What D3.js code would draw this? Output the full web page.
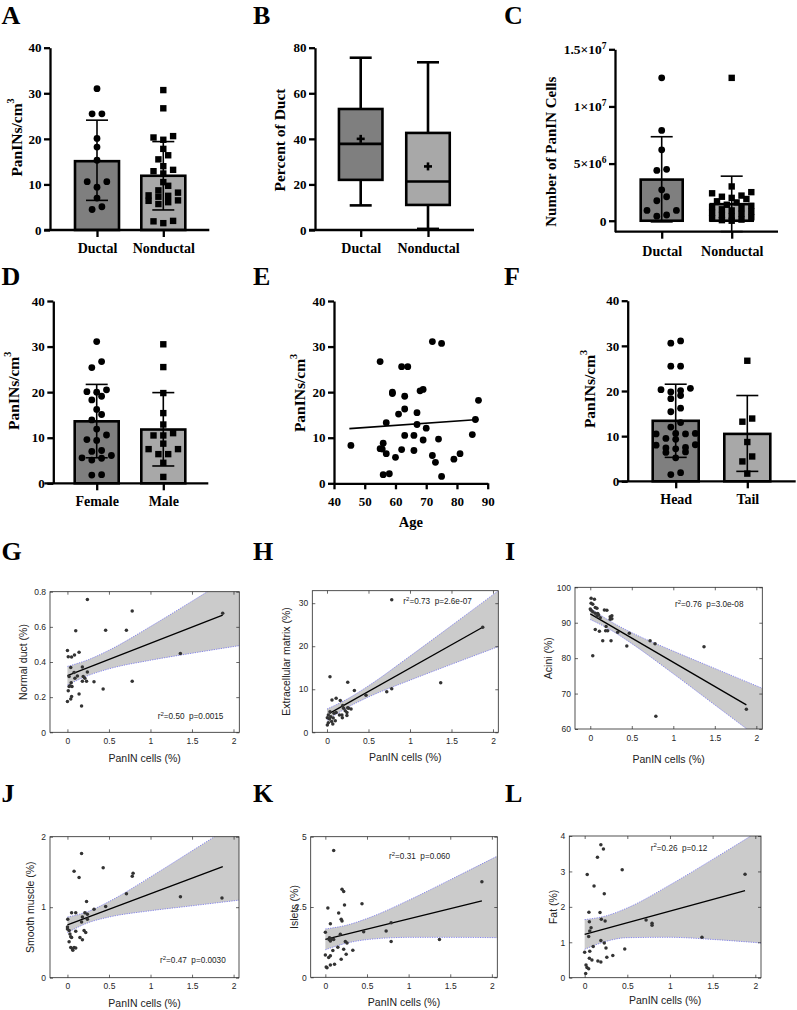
<!DOCTYPE html>
<html><head><meta charset="utf-8">
<script src="https://cdn.jsdelivr.net/npm/d3@7"></script>
<style>body{margin:0;background:#fff}</style>
</head><body>
<svg id="fig" width="797" height="1010" style="background:#fff"></svg>
<script>
// ================= DATA =================
// Panel A
const catsA = ["Ductal", "Nonductal"];
const ductalA = [31, 25.5, 25.5, 20.1, 18.2, 15.3, 10.6, 10.6, 9.4, 7.0, 5.1, 4.5];
const nonductalA = [30.7, 26.7, 20.6, 20.3, 19.8, 17.8, 16.4, 15.5, 14.0, 13.2, 12.9, 12.4, 10.5, 9.7, 8.7, 8.2, 7.6, 7.5, 7.3, 6.5, 6.4, 6.1, 5.7, 2.0, 1.9, 1.5];
const meanA = [15.1, 11.9];
const sdUpA = [24.1, 19.4];
const sdLoA = [6.5, 4.4];
const ticksA = [0, 10, 20, 30, 40];
// Panel B (box plot)
const catsB = ["Ductal", "Nonductal"];
const minB = [10.8, 0.5];
const q1B = [22.0, 11.0];
const medB = [37.8, 21.3];
const q3B = [53.1, 42.6];
const maxB = [75.6, 73.6];
const meanB = [40.0, 27.9];
const ticksB = [0, 20, 40, 60, 80];
// Panel C
const catsC = ["Ductal", "Nonductal"];
const ductalC = [12.5e6, 7.9e6, 6.2e6, 4.4e6, 4.5e6, 2.7e6, 2.1e6, 1.75e6, 0.9e6, 0.9e6, 0.4e6, 0.5e6];
const nonductalC = [12.5e6, 3.0e6, 2.5e6, 2.4e6, 2.2e6, 2.1e6, 2.0e6, 1.9e6, 1.7e6, 1.6e6, 1.4e6, 1.3e6, 1.2e6, 1.1e6, 1.0e6, 0.9e6, 0.8e6, 0.7e6, 0.6e6, 0.5e6, 0.4e6, 0.3e6, 0.2e6, 0.1e6, 0.05e6, 0];
const meanC = [3.6e6, 1.45e6];
const sdUpC = [7.35e6, 3.9e6];
const sdLoC = [-0.1e6, -0.95e6];
const ticksC = [0, 5e6, 1e7, 1.5e7];
// Panel D
const catsD = ["Female", "Male"];
const femaleD = [31.1, 26.7, 25.4, 20.5, 20.1, 20.0, 19.1, 18.3, 16.2, 15.1, 13.9, 11.9, 10.6, 9.6, 9.4, 7.2, 7.0, 6.1, 5.6, 5.1, 5.5, 1.8, 1.9];
const maleD = [30.5, 25.5, 19.8, 15.4, 12.9, 11.0, 10.5, 10.5, 8.7, 7.5, 7.5, 6.4, 6.4, 4.5, 1.4];
const meanD = [13.6, 11.8];
const sdUpD = [21.7, 19.9];
const sdLoD = [5.6, 3.8];
// Panel E
const ageE = [45.5, 55, 55, 55.7, 56, 56, 57, 57, 58, 59, 59, 60, 61, 62, 62, 63, 63, 63, 64, 66, 66, 67, 67, 68, 69, 69, 70, 72, 72, 73, 74, 75, 75, 79, 81, 85, 86, 87];
const valE = [8.3, 26.7, 7.6, 7.5, 8.8, 1.9, 13.3, 6.5, 2.1, 20.0, 19.7, 5.7, 15.2, 25.6, 7.4, 19.1, 16.3, 10.5, 25.6, 10.5, 7.2, 15.5, 12.9, 20.3, 20.6, 9.5, 12.1, 31.1, 6.1, 4.6, 9.7, 30.7, 1.5, 5.3, 6.5, 10.7, 14.0, 18.2];
const fitAgeE = [45, 87];
const fitValE = [12.0, 14.0];
const ticksAgeE = [40, 50, 60, 70, 80, 90];
// Panel F
const catsF = ["Head", "Tail"];
const headF = [31.1, 30.6, 25.5, 25.5, 20.6, 20.3, 20.1, 19.8, 19.0, 18.3, 16.2, 15.4, 13.0, 12.0, 10.6, 10.6, 10.5, 10.5, 9.5, 9.3, 8.1, 8.0, 7.5, 7.4, 7.2, 6.5, 6.4, 5.2, 1.9, 1.5];
const tailF = [26.7, 13.9, 13.2, 8.7, 5.5, 4.4, 1.7];
const meanF = [13.4, 10.5];
const sdUpF = [21.5, 19.0];
const sdLoF = [5.3, 2.2];

// Panels G-L (x = PanIN cells %)
const ticksPanIN = [0, 0.5, 1, 1.5, 2];
const gx = [0.24,0.78,1.87,0.10,0.46,0.71,1.36,0,0.14,0.085,0.01,0.05,0.18,0.04,0.24,0.08,0.02,0.19,0.09,0.21,0.18,0.23,0.32,0.78,0.045,0.03,0.02,0.055,0.01,0.43,0.14,0.05,0.04,0,0.17,0.12];
const gy = [0.756,0.69,0.678,0.578,0.58,0.58,0.449,0.466,0.455,0.44,0.43,0.428,0.372,0.368,0.343,0.34,0.317,0.317,0.307,0.307,0.29,0.29,0.288,0.29,0.282,0.265,0.26,0.26,0.237,0.246,0.218,0.203,0.19,0.175,0.15,0.32];
const gFitX = [0, 1.87], gFitY = [0.322, 0.667];
const gBandX = [0, 0.25, 0.5, 1, 1.5, 2.07];
const gBandLo = [0.269, 0.323, 0.361, 0.410, 0.450, 0.493];
const gBandHi = [0.375, 0.413, 0.467, 0.602, 0.746, 0.913];

const hx = [0.78,1.876,1.37,0.25,0.036,0.33,0.72,0.78,0.47,0.06,0.11,0.16,0.19,0.2,0.25,0.22,0.26,0.24,0.18,0.24,0.185,0.15,0.085,0.11,0.036,0.016,0.004,0.03,0.016,0.056,0.1,0.004,0.07,0.045,0.075,0.29];
const hy = [30.8,24.4,11.5,11.6,12.9,9.7,9.4,10.1,8.6,7.5,7.9,7.4,6.2,5.6,5.7,5.0,5.6,4.6,4.0,3.9,3.4,4.0,4.4,4.6,4.8,4.0,3.4,3.1,2.2,2.5,2.7,1.7,1.9,3.6,3.3,5.4];
const hFitX = [0.03, 1.876], hFitY = [4.4, 24.4];
const hBandX = [0, 0.25, 0.5, 1, 1.5, 2.064];
const hBandLo = [2.8, 5.8, 8.2, 12.1, 15.8, 19.9];
const hBandHi = [5.4, 7.8, 10.8, 17.7, 24.8, 32.9];

const ix = [0.01,0.05,0.01,0.03,0,0.01,0.06,0.08,0.03,0.06,0.09,0.1,0.08,0.12,0.17,0.2,0.24,0.26,0.24,0.26,0.06,0.11,0.19,0.185,0.21,0.15,0.25,0.33,0.47,0.44,0.72,0.78,0.03,1.37,0.79,1.88];
const iy = [96.9,96.6,95.5,95.2,93.9,93.5,94.3,94.1,93.1,92.7,92.6,92.2,91.9,91.4,93.6,93.5,91.7,92.0,91.0,91.1,88.1,87.6,88.9,87.7,87.7,84.9,84.9,87.3,87.0,83.4,84.9,84.1,80.7,83.2,63.6,65.6];
const iFitX = [0, 1.88], iFitY = [92.5, 66.8];
const iBandX = [0, 0.25, 0.5, 1, 1.5, 2.072];
const iBandLo = [90.9, 87.9, 84.1, 75.6, 66.8, 56.7];
const iBandHi = [94.1, 90.3, 87.2, 82.0, 77.1, 71.5];

const jx = [0.17,0.08,0.43,0.14,0.79,0.78,0.71,1.36,1.86,0.23,0.32,0.46,0.05,0.1,0.21,0.24,0.004,0.18,0.24,0.17,0,0,0.02,0.1,0.2,0.22,0.03,0.04,0.05,0.15,0.18,0.02,0.04,0.06,0.08,0.1,0.065];
const jy = [1.76,1.51,1.56,1.42,1.48,1.44,1.19,1.15,1.13,1.08,0.97,1.01,0.92,0.92,0.92,0.90,0.83,0.86,0.83,0.79,0.72,0.69,0.67,0.66,0.67,0.64,0.62,0.58,0.57,0.57,0.54,0.51,0.43,0.41,0.43,0.42,0.39];
const jFitX = [0, 1.87], jFitY = [0.75, 1.575];
const jBandX = [0, 0.25, 0.5, 1, 1.5, 2.065];
const jBandLo = [0.64, 0.78, 0.86, 0.95, 1.02, 1.10];
const jBandHi = [0.86, 0.94, 1.08, 1.43, 1.80, 2.22];

const kx = [0.1,1.88,0.2,0.22,0.03,0.44,0.23,0.16,0.19,0.2,0.06,0.79,0,0.46,0.73,0.18,0.05,0.08,0.045,0.1,0.06,0.24,0.26,0.79,1.37,0.15,0.22,0.09,0.33,0.25,0,0.04,0.06,0.19,0.11,0.06,0.01,0.02];
const ky = [4.51,3.40,3.13,3.05,2.46,2.62,2.57,2.29,2.06,2.0,1.90,1.94,1.60,1.62,1.65,1.53,1.41,1.36,1.34,1.34,1.29,1.27,1.22,1.27,1.34,1.07,1.0,0.95,0.96,0.82,0.79,0.70,0.77,0.64,0.46,0.44,0.37,0.34];
const kFitX = [0, 1.88], kFitY = [1.35, 2.72];
const kBandX = [0, 0.25, 0.5, 1, 1.5, 2.065];
const kBandLo = [0.98, 1.21, 1.34, 1.42, 1.42, 1.41];
const kBandHi = [1.72, 1.85, 2.09, 2.74, 3.47, 4.31];

const lx = [0.19,0.22,0.15,0.44,0.03,1.88,0.11,0.23,0.05,0.18,0.195,0.24,0.055,0.72,0.79,0.79,0.075,0.06,0.047,0.19,0.23,1.375,0.1,0.25,0.47,0,0.06,0.055,0.085,0.155,0.19,0.26,0.33,0.016,0.027,0.047,0.012];
const ly = [3.75,3.63,3.40,3.05,2.91,2.92,2.59,2.37,1.85,1.84,1.65,1.60,1.58,1.63,1.54,1.48,1.41,1.32,1.16,1.05,0.98,1.14,0.88,0.84,0.81,0.72,0.75,0.55,0.50,0.47,0.44,0.58,0.63,0.36,0.29,0.25,0.12];
const lFitX = [0, 1.88], lFitY = [1.22, 2.46];
const lBandX = [0, 0.25, 0.5, 1, 1.5, 2.067];
const lBandLo = [0.80, 1.025, 1.13, 1.14, 1.08, 0.98];
const lBandHi = [1.64, 1.745, 1.97, 2.62, 3.34, 4.18];

const statR2 = ["0.50", "0.73", "0.76", "0.47", "0.31", "0.26"];
const statP = ["0.0015", "2.6e-07", "3.0e-08", "0.0030", "0.060", "0.12"];

// ================= DRAWING =================
const SERIF = "'Liberation Serif','Times New Roman',serif";
const SANS = "'Liberation Sans',Arial,Helvetica,sans-serif";
const DARK = "#7f7f7f", LIGHT = "#a8a8a8";
const svg = d3.select("#fig");

function letter(t, x, y) {
  svg.append("text").attr("x", x).attr("y", y).text(t)
    .attr("font-family", SERIF).attr("font-weight", "bold").attr("font-size", 26).attr("fill", "#000");
}

function styleGP(sel, fs) {
  sel.attr("font-family", null).attr("font-size", null);
  sel.selectAll("path.domain").attr("stroke", "#000").attr("stroke-width", 2.3);
  sel.selectAll(".tick line").attr("stroke", "#000").attr("stroke-width", 2.3);
  sel.selectAll(".tick text").attr("font-family", SERIF).attr("font-weight", "bold")
    .attr("font-size", fs).attr("fill", "#000");
}

function yTitleGP(x, y, main, sup, fs) {
  const t = svg.append("text").attr("transform", `translate(${x},${y}) rotate(-90)`)
    .attr("text-anchor", "middle").attr("dominant-baseline", "central")
    .attr("font-family", SERIF).attr("font-weight", "bold").attr("font-size", fs).attr("fill", "#000");
  t.append("tspan").text(main);
  if (sup) t.append("tspan").attr("dy", -6).attr("font-size", fs * 0.65).text(sup);
}

// beeswarm-like arrangement (GraphPad scatter)
function swarmOffsets(vals, y, thr, sp, maxRow) {
  const idx = vals.map((v, i) => i).sort((a, b) => vals[a] - vals[b]);
  const off = new Array(vals.length).fill(0);
  let group = [];
  const flush = () => {
    const n = group.length;
    const slots = d3.range(n).map(k => k - (n - 1) / 2).sort((a, b) => Math.abs(a) - Math.abs(b) || a - b);
    group.forEach((id, k) => { off[id] = slots[k] * sp; });
    group = [];
  };
  idx.forEach(i => {
    if (group.length && (Math.abs(y(vals[i]) - y(vals[group[0]])) > thr || group.length >= maxRow)) flush();
    group.push(i);
  });
  flush();
  return off;
}

function barPanel(o) {
  const g = svg.append("g");
  const y = d3.scaleLinear().domain(o.ydom).range([o.yBot, o.yTop]);
  const x = d3.scalePoint().domain(o.cats).range(o.centers);
  const fills = [DARK, LIGHT];
  g.selectAll("rect.bar").data(o.cats).join("rect")
    .attr("x", c => x(c) - o.barW / 2).attr("width", o.barW)
    .attr("y", (c, i) => y(o.means[i])).attr("height", (c, i) => y(0) - y(o.means[i]))
    .attr("fill", (c, i) => fills[i]).attr("stroke", "#000").attr("stroke-width", 2.6);
  o.cats.forEach((c, i) => {
    const cx = x(c);
    const eb = g.append("g").attr("stroke", "#000").attr("stroke-width", 1.6);
    eb.append("line").attr("x1", cx).attr("x2", cx).attr("y1", y(o.lo[i])).attr("y2", y(o.up[i]));
    [o.lo[i], o.up[i]].forEach(v => eb.append("line").attr("x1", cx - 11).attr("x2", cx + 11).attr("y1", y(v)).attr("y2", y(v)));
  });
  o.groups.forEach((vals, i) => {
    const off = swarmOffsets(vals, y, 6.3, 9.8, 5);
    vals.forEach((v, j) => {
      const cx = x(o.cats[i]) + off[j], cy = y(v);
      if (i === 0) g.append("circle").attr("cx", cx).attr("cy", cy).attr("r", 3.4).attr("fill", "#000");
      else g.append("rect").attr("x", cx - 3.2).attr("y", cy - 3.2).attr("width", 6.4).attr("height", 6.4).attr("fill", "#000");
    });
  });
  // axes
  g.append("line").attr("x1", o.xStart).attr("x2", o.xEnd).attr("y1", o.yBot).attr("y2", o.yBot)
    .attr("stroke", "#000").attr("stroke-width", 2.3);
  g.append("g").attr("transform", `translate(0,${o.yBot})`)
    .call(d3.axisBottom(x).tickSize(7).tickSizeOuter(0).tickPadding(o.xPad))
    .call(s => s.select(".domain").remove()).call(s => styleGP(s, 14));
  const ya = g.append("g").attr("transform", `translate(${o.x0},0)`)
    .call(d3.axisLeft(y).tickValues(o.ticks).tickSize(6).tickSizeOuter(0).tickPadding(2.5).tickFormat(o.fmt || (d => String(d))))
    .call(s => styleGP(s, o.tickFs || 13));
  if (o.postY) o.postY(ya);
  yTitleGP(o.tx, o.ty, o.title, o.titleSup, o.titleFs || 15.5);
}

// ---------- A ----------
letter("A", 1.5, 23.5);
barPanel({cats: catsA, centers: [97, 163.3], barW: 44, x0: 50, xStart: 44.3, xEnd: 209.3,
  yTop: 47.7, yBot: 230, ydom: [0, 40], ticks: ticksA, groups: [ductalA, nonductalA],
  means: meanA, up: sdUpA, lo: sdLoA, xPad: 6.3, tx: 16, ty: 137.5, title: "PanINs/cm", titleSup: "3"});

// ---------- B (box plot) ----------
letter("B", 253, 23.5);
(function () {
  const g = svg.append("g");
  const y = d3.scaleLinear().domain([0, 80]).range([230, 47.7]);
  const x = d3.scalePoint().domain(catsB).range([360.7, 428]);
  const fills = [DARK, LIGHT];
  const bw = 43.5;
  catsB.forEach((c, i) => {
    const cx = x(c);
    const s = g.append("g").attr("stroke", "#000").attr("stroke-width", 2.6);
    s.append("line").attr("x1", cx).attr("x2", cx).attr("y1", y(maxB[i])).attr("y2", y(q3B[i]));
    s.append("line").attr("x1", cx).attr("x2", cx).attr("y1", y(q1B[i])).attr("y2", y(minB[i]));
    [minB[i], maxB[i]].forEach(v => s.append("line").attr("x1", cx - 11).attr("x2", cx + 11).attr("y1", y(v)).attr("y2", y(v)));
    s.append("rect").attr("x", cx - bw / 2).attr("width", bw).attr("y", y(q3B[i])).attr("height", y(q1B[i]) - y(q3B[i]))
      .attr("fill", fills[i]);
    s.append("line").attr("x1", cx - bw / 2).attr("x2", cx + bw / 2).attr("y1", y(medB[i])).attr("y2", y(medB[i]));
    s.append("line").attr("x1", cx - 4).attr("x2", cx + 4).attr("y1", y(meanB[i])).attr("y2", y(meanB[i]));
    s.append("line").attr("x1", cx).attr("x2", cx).attr("y1", y(meanB[i]) - 4).attr("y2", y(meanB[i]) + 4);
  });
  g.append("line").attr("x1", 309).attr("x2", 474).attr("y1", 230).attr("y2", 230).attr("stroke", "#000").attr("stroke-width", 2.3);
  g.append("g").attr("transform", "translate(0,230)")
    .call(d3.axisBottom(x).tickSize(7).tickSizeOuter(0).tickPadding(6.5))
    .call(s => s.select(".domain").remove()).call(s => styleGP(s, 14));
  g.append("g").attr("transform", "translate(315,0)")
    .call(d3.axisLeft(y).tickValues(ticksB).tickSize(6).tickSizeOuter(0).tickPadding(2.5))
    .call(s => styleGP(s, 13));
  yTitleGP(279, 140, "Percent of Duct", null, 15.5);
})();

// ---------- C ----------
letter("C", 504, 23.5);
barPanel({cats: catsC, centers: [661.7, 731.7], barW: 42, x0: 615, xStart: 615, xEnd: 778,
  yTop: 49.3, yBot: 231.7, ydom: [-0.96e6, 1.5e7], ticks: ticksC, groups: [ductalC, nonductalC],
  means: meanC, up: sdUpC, lo: sdLoC, xPad: 7.4, tx: 551, ty: 151.7, title: "Number of PanIN Cells", titleFs: 15,
  tickFs: 13.5,
  postY: sel => sel.selectAll(".tick text").each(function (d) {
    const t = d3.select(this); t.text(null);
    if (d === 0) { t.text("0"); return; }
    const e = Math.floor(Math.log10(d)); const m = +(d / Math.pow(10, e)).toFixed(2);
    t.append("tspan").text(m + "\u00d710");
    t.append("tspan").attr("dy", -5).attr("font-size", 9.5).text(e);
  })});

// ---------- D ----------
letter("D", 1.5, 285);
barPanel({cats: catsD, centers: [96.7, 163.3], barW: 44, x0: 53.3, xStart: 44.3, xEnd: 208.3,
  yTop: 301, yBot: 483.3, ydom: [0, 40], ticks: ticksA, groups: [femaleD, maleD],
  means: meanD, up: sdUpD, lo: sdLoD, xPad: 5.8, tx: 13, ty: 390.8, title: "PanINs/cm", titleSup: "3"});

// ---------- E ----------
letter("E", 253, 285);
(function () {
  const g = svg.append("g");
  const x = d3.scaleLinear().domain([40, 90]).range([334, 487.7]);
  const y = d3.scaleLinear().domain([0, 40]).range([483.3, 301]);
  g.append("path").datum(fitAgeE.map((v, i) => [v, fitValE[i]]))
    .attr("d", d3.line().x(d => x(d[0])).y(d => y(d[1]))).attr("stroke", "#000").attr("stroke-width", 1.6).attr("fill", "none");
  g.selectAll("circle").data(ageE.map((v, i) => [v, valE[i]])).join("circle")
    .attr("cx", d => x(d[0])).attr("cy", d => y(d[1])).attr("r", 3.4).attr("fill", "#000");
  g.append("g").attr("transform", "translate(0,483.3)")
    .call(d3.axisBottom(x).tickValues(ticksAgeE).tickSize(6).tickSizeOuter(0).tickPadding(7.5))
    .call(s => styleGP(s, 13));
  g.append("g").attr("transform", "translate(334,0)")
    .call(d3.axisLeft(y).tickValues(ticksA).tickSize(6).tickSizeOuter(0).tickPadding(2.5))
    .call(s => styleGP(s, 13));
  yTitleGP(299, 393, "PanINs/cm", "3", 15.5);
  svg.append("text").attr("x", 410.9).attr("y", 526.7).attr("text-anchor", "middle")
    .attr("font-family", SERIF).attr("font-weight", "bold").attr("font-size", 14.5).text("Age");
})();

// ---------- F ----------
letter("F", 504, 285);
barPanel({cats: catsF, centers: [675.7, 747.3], barW: 46, x0: 627.7, xStart: 617.7, xEnd: 795.7,
  yTop: 300.7, yBot: 481.3, ydom: [0, 40], ticks: ticksA, groups: [headF, tailF],
  means: meanF, up: sdUpF, lo: sdLoF, xPad: 5.8, tx: 589, ty: 389, title: "PanINs/cm", titleSup: "3"});

// ---------- MATLAB-style regression panels ----------
function mPanel(o) {
  const g = svg.append("g");
  const x = d3.scaleLinear().domain(o.xdom).range([o.L, o.R]);
  const y = d3.scaleLinear().domain(o.ydom).range([o.B, o.T]);
  const cid = "clip" + o.id;
  svg.append("defs").append("clipPath").attr("id", cid).append("rect")
    .attr("x", o.L).attr("y", o.T).attr("width", o.R - o.L).attr("height", o.B - o.T);
  const pg = g.append("g").attr("clip-path", `url(#${cid})`);
  const band = o.bx.map((v, i) => [v, o.lo[i], o.hi[i]]);
  pg.append("path").datum(band)
    .attr("d", d3.area().x(d => x(d[0])).y0(d => y(d[1])).y1(d => y(d[2])).curve(d3.curveMonotoneX))
    .attr("fill", "#cbcbcb");
  [1, 2].forEach(k => pg.append("path").datum(band)
    .attr("d", d3.line().x(d => x(d[0])).y(d => y(d[k])).curve(d3.curveMonotoneX))
    .attr("fill", "none").attr("stroke", "#7070f0").attr("stroke-width", 0.8).attr("stroke-dasharray", "1.2,1.2"));
  pg.append("path").datum(o.fx.map((v, i) => [v, o.fy[i]]))
    .attr("d", d3.line().x(d => x(d[0])).y(d => y(d[1])))
    .attr("stroke", "#000").attr("stroke-width", 1.3).attr("fill", "none");
  pg.selectAll("circle").data(o.px.map((v, i) => [v, o.py[i]])).join("circle")
    .attr("cx", d => x(d[0])).attr("cy", d => y(d[1])).attr("r", 1.75).attr("fill", "#333");
  const fmt = d => String(d);
  const st = s => {
    s.select(".domain").remove();
    s.attr("font-family", null).attr("font-size", null);
    s.selectAll(".tick line").attr("stroke", "#262626").attr("stroke-width", 0.7);
    s.selectAll(".tick text").attr("font-family", SANS).attr("font-size", 8.5).attr("fill", "#262626");
  };
  g.append("g").attr("transform", `translate(0,${o.B})`).call(d3.axisBottom(x).tickValues(ticksPanIN).tickFormat(fmt).tickSize(-3).tickPadding(5.5)).call(st);
  g.append("g").attr("transform", `translate(0,${o.T})`).call(d3.axisTop(x).tickValues(ticksPanIN).tickFormat(() => "").tickSize(-3)).call(st);
  g.append("g").attr("transform", `translate(${o.L},0)`).call(d3.axisLeft(y).tickValues(o.yt).tickFormat(fmt).tickSize(-3).tickPadding(4)).call(st);
  g.append("g").attr("transform", `translate(${o.R},0)`).call(d3.axisRight(y).tickValues(o.yt).tickFormat(() => "").tickSize(-3)).call(st);
  g.append("rect").attr("x", o.L).attr("y", o.T).attr("width", o.R - o.L).attr("height", o.B - o.T)
    .attr("fill", "none").attr("stroke", "#262626").attr("stroke-width", 0.8);
  svg.append("text").attr("transform", `translate(${o.tx},${(o.T + o.B) / 2}) rotate(-90)`)
    .attr("text-anchor", "middle").attr("dominant-baseline", "central")
    .attr("font-family", SANS).attr("font-size", 10.5).attr("fill", "#222").text(o.title);
  svg.append("text").attr("x", (o.L + o.R) / 2).attr("y", o.xty).attr("text-anchor", "middle")
    .attr("font-family", SANS).attr("font-size", 10.5).attr("fill", "#222").text("PanIN cells (%)");
  const t = svg.append("text").attr("x", o.sx).attr("y", o.sy).attr("font-family", SANS)
    .attr("font-size", 8.2).attr("fill", "#222");
  t.append("tspan").text("r");
  t.append("tspan").attr("dy", -3.5).attr("font-size", 6).text("2");
  t.append("tspan").attr("dy", 3.5).text(`=${statR2[o.k]}\u00a0\u00a0p=${statP[o.k]}`);
}

letter("G", 1.5, 560);
mPanel({id: "G", k: 0, L: 50, R: 239.3, T: 591.7, B: 732.3, xdom: [-0.21, 2.07], ydom: [0, 0.8],
  yt: [0, 0.2, 0.4, 0.6, 0.8], px: gx, py: gy, fx: gFitX, fy: gFitY, bx: gBandX, lo: gBandLo, hi: gBandHi,
  title: "Normal duct (%)", tx: 22.7, xty: 761.7, sx: 157.7, sy: 719});
letter("H", 253, 560);
mPanel({id: "H", k: 1, L: 312.3, R: 498.3, T: 590.7, B: 732.3, xdom: [-0.177, 2.064], ydom: [0, 32.9],
  yt: [0, 10, 20, 30], px: hx, py: hy, fx: hFitX, fy: hFitY, bx: hBandX, lo: hBandLo, hi: hBandHi,
  title: "Extracellular matrix (%)", tx: 285.5, xty: 761, sx: 403.3, sy: 604.3});
letter("I", 505, 560);
mPanel({id: "I", k: 2, L: 575, R: 762.3, T: 587.3, B: 729, xdom: [-0.184, 2.072], ydom: [60, 100],
  yt: [60, 70, 80, 90, 100], px: ix, py: iy, fx: iFitX, fy: iFitY, bx: iBandX, lo: iBandLo, hi: iBandHi,
  title: "Acini (%)", tx: 547.7, xty: 762.7, sx: 675, sy: 607});
letter("J", 1.5, 801.7);
mPanel({id: "J", k: 3, L: 50, R: 239, T: 836.7, B: 977.7, xdom: [-0.21, 2.065], ydom: [0, 2],
  yt: [0, 1, 2], px: jx, py: jy, fx: jFitX, fy: jFitY, bx: jBandX, lo: jBandLo, hi: jBandHi,
  title: "Smooth muscle (%)", tx: 30, xty: 1006.5, sx: 160, sy: 963.3});
letter("K", 253, 801.7);
mPanel({id: "K", k: 4, L: 310.7, R: 497.3, T: 836.7, B: 977.3, xdom: [-0.176, 2.065], ydom: [0, 5],
  yt: [0, 2.5, 5], px: kx, py: ky, fx: kFitX, fy: kFitY, bx: kBandX, lo: kBandLo, hi: kBandHi,
  title: "Islets (%)", tx: 294, xty: 1006, sx: 389, sy: 859.3});
letter("L", 505, 801.7);
mPanel({id: "L", k: 5, L: 569.3, R: 761, T: 836, B: 977.7, xdom: [-0.18, 2.067], ydom: [0, 4],
  yt: [0, 1, 2, 3, 4], px: lx, py: ly, fx: lFitX, fy: lFitY, bx: lBandX, lo: lBandLo, hi: lBandHi,
  title: "Fat (%)", tx: 553.3, xty: 1004, sx: 650.7, sy: 850.7});
</script>
</body></html>
